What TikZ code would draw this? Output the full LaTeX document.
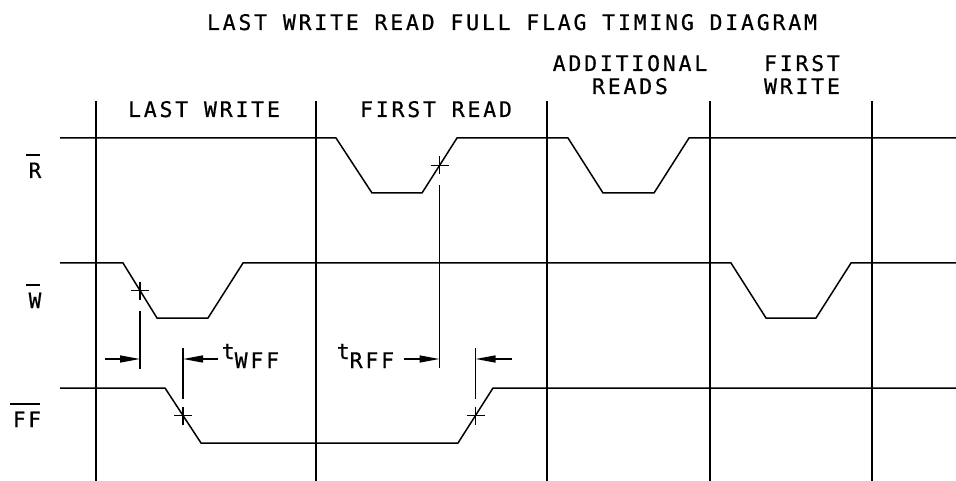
\documentclass[tikz,border=0pt]{standalone}
\usepackage{fontspec}
\usepackage{tikz}
\usetikzlibrary{arrows.meta,calc}
\newfontfamily\cadfont[LetterSpace=13,FakeBold=0.6]{DejaVu Sans Mono}

\begin{document}
\begin{tikzpicture}[x=1pt, y=-1pt, line width=1.5pt,
    txt/.style={font=\cadfont\fontsize{21.5}{23}\selectfont, inner sep=0pt},
    siglbl/.style={font=\cadfont\fontsize{21}{22}\selectfont, inner sep=0pt, anchor=base},
    dimarrow/.style={-{Triangle[length=20pt,width=7pt]}, line width=1.4pt},
    tick/.style={line width=1.4pt}]
    \useasboundingbox (0,0) rectangle (956,481);

    % title and column heads
    \node[txt, anchor=base] (title) at (512,30) {LAST WRITE READ FULL FLAG TIMING DIAGRAM};
    \node[txt, anchor=base] (lw) at (204,117) {LAST WRITE};
    \node[txt, anchor=base] (fr) at (436,117) {FIRST READ};
    \node[txt, anchor=base, align=center] (ar) at (630,94) {ADDITIONAL\\READS};
    \node[txt, anchor=base, align=center] (fw) at (802,94) {FIRST\\WRITE};

    % signal names
    \node[siglbl] (rn) at (35,178) {R};
    \node[siglbl] (wn) at (35,308) {W};
    \node[siglbl] (ffn) at (27,427) {FF};
    \foreach \n in {rn,wn,ffn}
        \draw[tick] ($(\n.north west)+(-2,-7)$) -- ($(\n.north east)+(-2,-7)$);

    % cycle boundaries
    \foreach \x in {96,316,547,710,872}
        \draw (\x,101) -- (\x,481);

    % waveforms
    \draw (60,138) -- (336,138) -- (372,193) coordinate (r1) -- (422,193) coordinate (r2)
        -- (457,138) coordinate (r3) -- (568,138) -- (603,193) -- (654,193) -- (689,138) -- (956,138);
    \draw (60,263) -- (123,263) coordinate (w1) -- (157,318) coordinate (w2) -- (208,318)
        -- (243,263) -- (731,263) -- (766,318) -- (816,318) -- (851,263) -- (956,263);
    \draw (60,388) -- (165,388) coordinate (f1) -- (201,443) coordinate (f2) -- (458,443) coordinate (f3)
        -- (493,388) coordinate (f4) -- (956,388);

    % reference points
    \coordinate (wx) at ($(w1)!0.5!(w2)$);
    \coordinate (rx) at ($(r2)!0.5!(r3)$);
    \coordinate (fa) at ($(f1)!0.5!(f2)$);
    \coordinate (fb) at ($(f3)!0.5!(f4)$);
    \foreach \c in {wx,rx,fa,fb}
        \draw[tick] (\c) +(-9,0) -- +(9,0) (\c) +(0,-9) -- +(0,9);

    % extension lines
    \draw[tick] ($(wx)+(0,20)$) -- ($(wx)+(0,78)$) coordinate (wd);
    \draw[tick] ($(rx)+(0,20)$) -- ($(rx)+(0,202)$) coordinate (rd);
    \draw[tick] ($(fa)+(0,-17)$) -- ($(fa)+(0,-68)$) coordinate (fad);
    \draw[tick] ($(fb)+(0,-17)$) -- ($(fb)+(0,-68)$) coordinate (fbd);

    % timing arrows
    \coordinate (a1) at ($(wx|-0,359)+(-35,0)$);
    \coordinate (a2) at ($(fa|-0,359)+(35,0)$);
    \coordinate (a3) at ($(rx|-0,359)+(-36,0)$);
    \coordinate (a4) at ($(fb|-0,359)+(36,0)$);
    \draw[dimarrow] (a1) -- (wx|-a1);
    \draw[dimarrow] (a2) -- (fa|-a2);
    \draw[dimarrow] (a3) -- (rx|-a3);
    \draw[dimarrow] (a4) -- (fb|-a4);

    \node[txt, anchor=base west] (twff) at (221,368) {\raisebox{9pt}{t}WFF};
    \node[txt, anchor=base west] (trff) at (336,368) {\raisebox{9pt}{t}RFF};
\end{tikzpicture}
\end{document}
